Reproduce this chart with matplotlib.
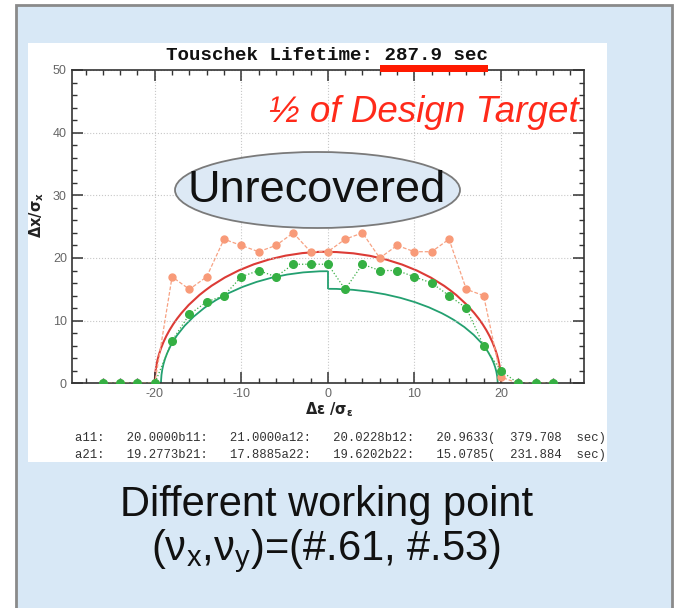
import matplotlib
matplotlib.use("Agg")
import matplotlib.pyplot as plt
from matplotlib.patches import Rectangle, Ellipse, Arc
from matplotlib.ticker import MultipleLocator

plt.rcParams['mathtext.fontset'] = 'custom'
plt.rcParams['mathtext.rm'] = 'Liberation Sans'
plt.rcParams['mathtext.it'] = 'Liberation Sans:italic'
plt.rcParams['mathtext.bf'] = 'Liberation Sans:bold'
plt.rcParams['axes.unicode_minus'] = False

# energy deviation of the tracked particles
de = [-26, -24, -22, -20, -18, -16, -14, -12, -10, -8, -6, -4, -2, 0,
      2, 4, 6, 8, 10, 12, 14, 16, 18, 20, 22, 24, 26]
# aperture, design working point (orange) and new working point (green)
ap_design = [0, 0, 0, 0, 17, 15, 17, 23, 22, 21, 22, 24, 21, 21,
             23, 24, 20, 22, 21, 21, 23, 15, 14, 1, 0, 0, 0]
ap_new = [0, 0, 0, 0, 6.8, 11, 13, 14, 17, 18, 17, 19, 19, 19,
          15, 19, 18, 18, 17, 16, 14, 12, 6, 2, 0, 0, 0]

# elliptic fit parameters (left / right half)
a11, b11, a12, b12 = 20.0000, 21.0000, 20.0228, 20.9633
a21, b21, a22, b22 = 19.2773, 17.8885, 19.6202, 15.0785
fit_lines = [
    "a11:   20.0000b11:   21.0000a12:   20.0228b12:   20.9633(  379.708  sec)",
    "a21:   19.2773b21:   17.8885a22:   19.6202b22:   15.0785(  231.884  sec)",
]

W, H = 675, 608


def fx(px):
    return px / W


def fy(py):
    return 1 - py / H


fig = plt.figure(figsize=(W / 100, H / 100), dpi=100)
fig.patch.set_facecolor('white')

# slide background and white plot panel
fig.add_artist(Rectangle((fx(16), fy(620)), (672 - 16) / W, (620 - 5) / H,
                         transform=fig.transFigure, fc='#d8e8f6', ec='#8a8a8a', lw=2, zorder=-3))
fig.add_artist(Rectangle((fx(28), fy(462)), (607 - 28) / W, (462 - 43) / H,
                         transform=fig.transFigure, fc='white', ec='none', zorder=-2))

ax = fig.add_axes([fx(71.7), fy(383.3), (584 - 71.7) / W, (383.3 - 70) / H])
ax.set_zorder(1)
ax.set_facecolor('none')
ax.set_xlim(-29.6, 29.6)
ax.set_ylim(0, 50)

# fitted ellipses
red = '#dc3b36'
teal = '#23a070'
ax.add_patch(Arc((0, 0), 2 * a11, 2 * b11, theta1=90, theta2=180, color=red, lw=1.5))
ax.add_patch(Arc((0, 0), 2 * a12, 2 * b12, theta1=0, theta2=90, color=red, lw=1.5))
ax.vlines(0, b12, b11, color=red, lw=1.5)
ax.add_patch(Arc((0, 0), 2 * a21, 2 * b21, theta1=90, theta2=180, color=teal, lw=1.3))
ax.add_patch(Arc((0, 0), 2 * a22, 2 * b22, theta1=0, theta2=90, color=teal, lw=1.3))
ax.vlines(0, b22, b21, color=teal, lw=1.3)

ax.plot(de, ap_design, color='#f7a283', lw=0.9, ls=(0, (3, 1.5)),
        marker='o', ms=5, mfc='#f89a78', mec='#f89a78', zorder=3)
ax.plot(de, ap_new, color='#3aae46', lw=0.9, ls=':',
        marker='o', ms=5.5, mfc='#35b043', mec='#35b043', zorder=4)

ax.xaxis.set_major_locator(MultipleLocator(10))
ax.xaxis.set_minor_locator(MultipleLocator(2))
ax.yaxis.set_major_locator(MultipleLocator(10))
ax.yaxis.set_minor_locator(MultipleLocator(2))
ax.set_xticks([-20, -10, 0, 10, 20])
ax.tick_params(which='both', direction='in', top=True, right=True,
               colors='#333333', labelcolor='#666666', labelsize=9)
ax.tick_params(which='major', length=8, width=1.1)
ax.tick_params(which='minor', length=3.5, width=1)
for lab in ax.get_xticklabels() + ax.get_yticklabels():
    lab.set_family('Liberation Sans')
ax.grid(True, which='major', ls=':', color='#c8c8c8', lw=0.8)
for s in ax.spines.values():
    s.set_color('#333333')
    s.set_linewidth(1.2)

# title with red underline
fig.text(fx(327), fy(55), 'Touschek Lifetime: 287.9 sec', ha='center', va='center',
         family='Liberation Mono', weight='bold', size=13.8, color='#111111')
fig.add_artist(Rectangle((fx(380), fy(72)), (488 - 380) / W, 7 / H,
                         transform=fig.transFigure, fc='#ff1a00', ec='none', zorder=10))

# axis labels
fig.text(fx(329), fy(410), r'$\mathbf{\Delta\varepsilon\ /\sigma_\varepsilon}$', ha='center', va='center',
         size=10.5, color='#222222', math_fontfamily='dejavusans')
fig.text(fx(37), fy(215), r'$\mathbf{\Delta x/\sigma_x}$', ha='center', va='center', rotation=90,
         size=10.5, color='#222222', math_fontfamily='dejavusans')

for i, line in enumerate(fit_lines):
    fig.text(fx(75), fy(438 + 17 * i), line, ha='left', va='center',
             family='Liberation Mono', size=8.8, color='#333333')

# annotations
fig.text(fx(424), fy(113), '½ of Design Target', ha='center', va='center',
         family='Liberation Sans', style='italic', size=26.5, color='#ff2a1a', zorder=6)
fig.add_artist(Ellipse((fx(317.5), fy(190)), 285 / W, 76 / H, transform=fig.transFigure,
                       fc='#dde9f5', ec='#7a7a7a', lw=1.3, zorder=5))
fig.text(fx(317), fy(190), 'Unrecovered', ha='center', va='center',
         family='Liberation Sans', size=32.5, color='#111111', zorder=6)

fig.text(fx(327), fy(516), 'Different working point', ha='center', va='baseline',
         family='Liberation Sans', size=30, color='#111111')
fig.text(fx(326), fy(560), r'(ν$_\mathrm{x}$,ν$_\mathrm{y}$)=(#.61, #.53)', ha='center', va='baseline',
         family='Liberation Sans', size=30, color='#111111')

fig.savefig('out.png', dpi=100)
